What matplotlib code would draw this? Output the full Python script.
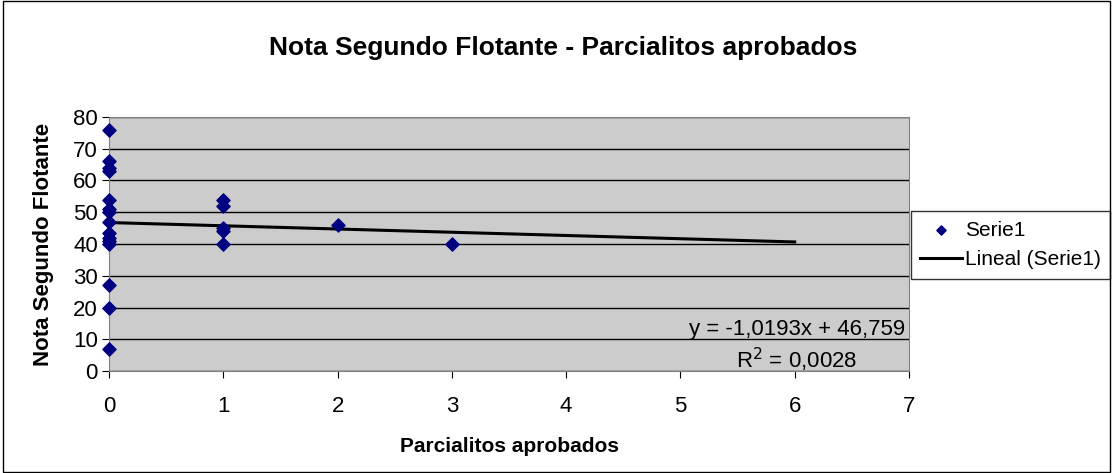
import matplotlib
matplotlib.use("Agg")
import matplotlib.pyplot as plt
import numpy as np
from matplotlib.patches import Rectangle

plt.rcParams['font.family'] = ['Liberation Sans', 'DejaVu Sans']

# data
x_vals = [0, 0, 0, 0, 0, 0, 0, 0, 0, 0, 0, 0, 0, 0, 0,
          1, 1, 1, 1, 1, 2, 3]
y_vals = [76, 66, 64, 63, 54, 51, 50, 47, 43.5, 42, 40, 27, 20, 7, 41,
          54, 52, 45, 44, 40, 46, 40]
slope = -1.0193
intercept = 46.759
trend_x = [0, 6]

W, H = 1113, 473
fig = plt.figure(figsize=(W / 100, H / 100), dpi=100)
fig.patches.append(Rectangle((0.003, 0.003), 0.994, 0.994, transform=fig.transFigure,
                             fill=False, edgecolor='black', linewidth=1))

ax = fig.add_axes([109 / W, 1 - 371 / H, 800 / W, 254 / H])
ax.set_facecolor('#CCCCCC')
ax.set_xlim(0, 7)
ax.set_ylim(0, 80)
ax.set_xticks(range(0, 8))
ax.set_yticks(range(0, 81, 10))
ax.grid(axis='y', color='black', linewidth=1)
ax.set_axisbelow(True)
for s in ax.spines.values():
    s.set_color('#808080')
ax.tick_params(labelsize=16, length=5, color='black', direction='out')
ax.tick_params(axis='x', pad=13)
ax.tick_params(axis='y', pad=3)

ax.scatter(x_vals, y_vals, marker='D', s=45, color='#000080', zorder=3,
           clip_on=False, label='Serie1')
ty = [slope * t + intercept for t in trend_x]
ax.plot(trend_x, ty, color='black', linewidth=2.2, zorder=2, label='Lineal (Serie1)')

ax.text(6.97, 13.2, 'y = -1,0193x + 46,759', ha='right', va='center', fontsize=16)
ax.text(6.55, 3.6, 'R$^2$ = 0,0028', ha='right', va='center', fontsize=16)

ax.set_xlabel('Parcialitos aprobados', fontsize=15, fontweight='bold')
ax.xaxis.set_label_coords(0.5, -(446 - 371) / 254)
ax.xaxis.label.set_va('center')
ax.set_ylabel('Nota Segundo Flotante', fontsize=16, fontweight='bold')
ax.yaxis.set_label_coords(-(109 - 44) / 800, 0.5)
ax.yaxis.label.set_va('center')
fig.text(563 / W, 1 - 48 / H, 'Nota Segundo Flotante - Parcialitos aprobados',
         ha='center', va='center', fontsize=19, fontweight='bold')

leg = ax.legend(loc='center left', bbox_to_anchor=(911 / W, 1 - 245 / H),
                bbox_transform=fig.transFigure, frameon=True, fancybox=False,
                fontsize=15, handlelength=2.0, handletextpad=0.15, markerscale=0.7,
                borderpad=0.45, labelspacing=0.5, borderaxespad=0)
leg.get_frame().set_edgecolor('black')
leg.get_frame().set_linewidth(1)

fig.savefig('out.png', dpi=100)
